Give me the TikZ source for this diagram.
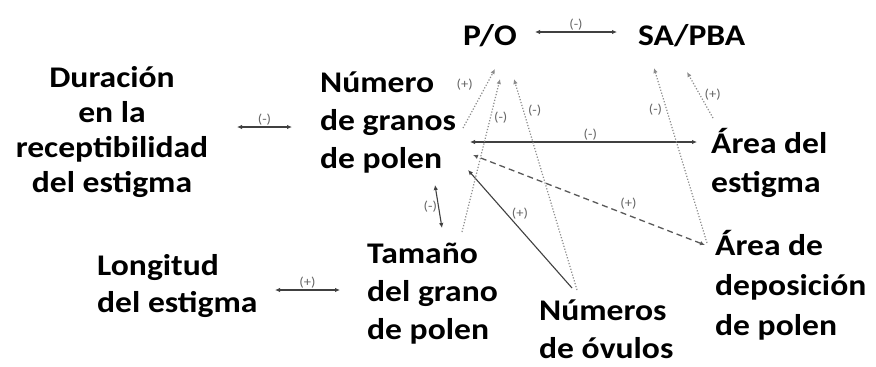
\documentclass[tikz,border=0pt]{standalone}
\usepackage{fontspec}
\setmainfont{Carlito}[FakeStretch=1.12]
\usetikzlibrary{arrows.meta}

\begin{document}
\begin{tikzpicture}[
        x=1pt, y=-1pt,
        >={Latex[length=5pt,width=4.5pt]},
        V/.style = {inner sep=0pt, anchor=base west, align=left,% variables, placed at last line
                font=\fontsize{30}{38}\selectfont\bfseries},
        S/.style = {inner sep=1pt, text=black!60,% signs on the links
                font=\fontsize{13}{13}\selectfont},
        L/.style = {draw=black!75, line width=1.1pt},% solid links
        D/.style = {draw=black!45, line width=1.2pt,% dotted links
                dash pattern=on 1.2pt off 1.8pt},
        H/.style = {draw=black!65, line width=1.3pt,% dashed link
                dash pattern=on 6pt off 4pt},
    ]
    \fill[white] (0,0) rectangle (876,367);
    \useasboundingbox (0,0) rectangle (876,367);
    % variables
    \node[V] (po) at (463,45) {P/O};
    \node[V] (sap) at (638,45) {SA/PBA};
    \node[V, anchor=base, align=center,
          font=\fontsize{30}{34.7}\selectfont\bfseries] (dur) at (112,192)
          {Duración\\en la\\receptibilidad\\del estigma};
    \node[V] (num) at (320,168) {Número\\de granos\\de polen};
    \node[V] (tam) at (367,339) {Tamaño\\del grano\\de polen};
    \node[V] (nov) at (539,358) {Números\\de óvulos};
    \node[V, font=\fontsize{30}{37}\selectfont\bfseries] (lon) at (97,312)
          {Longitud\\del estigma};
    \node[V, font=\fontsize{30}{39}\selectfont\bfseries] (aes) at (711,192)
          {Área del\\estigma};
    \node[V, font=\fontsize{30}{40}\selectfont\bfseries] (adp) at (715,335)
          {Área de\\deposición\\de polen};
    % links
    \draw[L, <->] ([shift={(72,-13)}]po.base west) -- node[S, above] {(-)} ([shift={(-21,-13)}]sap.base west);
    \draw[L, <->] ([shift={(125,-65)}]dur.base) -- node[S, above] {(-)} ([shift={(-28,-41)}]num.base west);
    \draw[L, <->] ([shift={(178,-22)}]lon.base west) -- node[S, above] {(+)} ([shift={(-27,-49)}]tam.base west);
    \draw[L, <->] ([shift={(115,17)}]num.base west) -- node[S, left] {(-)} ([shift={(75,-111)}]tam.base west);
    \draw[L, ->] ([shift={(33,-70)}]nov.base west) -- node[S, midway, above=8pt] {(+)} ([shift={(148,2)}]num.base west);
    \draw[L, <->] ([shift={(150,-26)}]num.base west) -- node[S, above, pos=.53] {(-)} ([shift={(-14,-50)}]aes.base west);
    \draw[H, <->] ([shift={(-10,-90)}]adp.base west) -- node[S, above=4pt, pos=.33] {(+)} ([shift={(153,-13)}]num.base west);
    \draw[D, ->] ([shift={(143,-40)}]num.base west) -- node[S, left=12pt, pos=.73] {(+)} ([shift={(32,24)}]po.base west);
    \draw[D, ->] ([shift={(95,-107)}]tam.base west) -- node[S, right=2pt, pos=.75] {(-)} ([shift={(37,34)}]po.base west);
    \draw[D, ->] ([shift={(38,-68)}]nov.base west) -- node[S, right=3pt, pos=.85] {(-)} ([shift={(51,34)}]po.base west);
    \draw[D, ->] ([shift={(-8,-92)}]adp.base west) -- node[S, left=3pt, pos=.76] {(-)} ([shift={(16,23)}]sap.base west);
    \draw[D, ->] ([shift={(2,-74)}]aes.base west) -- node[S, right=3pt, midway] {(+)} ([shift={(49,27)}]sap.base west);
\end{tikzpicture}
\end{document}
